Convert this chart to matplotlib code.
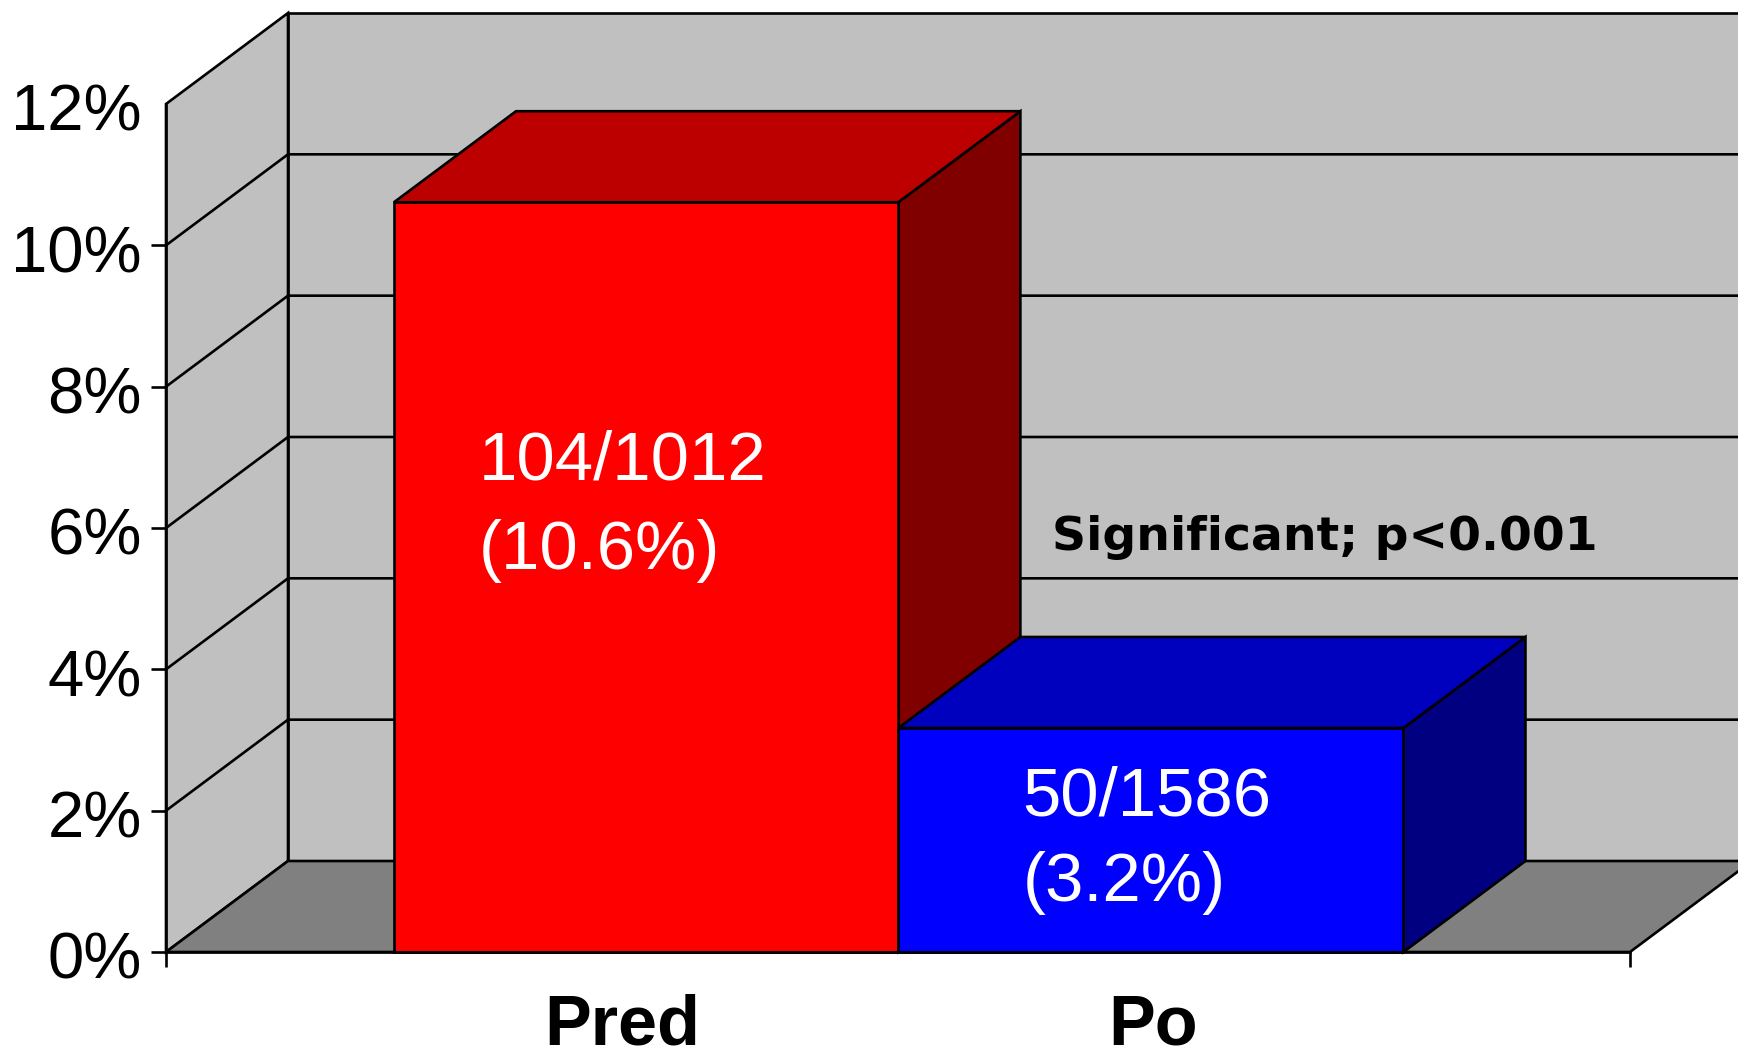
import matplotlib
matplotlib.use("Agg")
import matplotlib.pyplot as plt
from matplotlib.patches import Polygon
from matplotlib.transforms import ScaledTranslation

categories = ["Pred", "Po"]
rates = [10.61, 3.17]
bar_notes = [["104/1012", "(10.6%)"], ["50/1586", "(3.2%)"]]
y_ticks = [0, 2, 4, 6, 8, 10, 12]
y_tick_labels = ["0%", "2%", "4%", "6%", "8%", "10%", "12%"]
annotation = "Significant; p<0.001"

W, H = 1738, 1048
LEFT, RIGHT, BOTTOM, TOP = 166, 1630, 952, 104
XMAX, YMAX = 2.0, 12.0
DX = 122 / ((RIGHT - LEFT) / XMAX)
DY = 91 / ((BOTTOM - TOP) / YMAX)
bar_centers = [0.656, 1.3455]
bar_widths = [0.689, 0.690]
LW = 1.9
LC = "black"
face = ["#FF0000", "#0000FF"]
side = ["#800000", "#000080"]
top = ["#BC0000", "#0000BF"]
label_x = [0.427, 1.170]
label_y = [[6.94, 5.67], [2.19, 0.97]]

plt.rcParams["font.family"] = ["Liberation Sans", "DejaVu Sans"]
fig = plt.figure(figsize=(W / 100, H / 100), dpi=100, facecolor="white")
ax = fig.add_axes([LEFT / W, 1 - BOTTOM / H, (RIGHT - LEFT) / W, (BOTTOM - TOP) / H])
ax.set_xlim(0, XMAX)
ax.set_ylim(0, YMAX)
ax.patch.set_visible(False)


def poly(points, color, z, edge=LC):
    ax.add_patch(Polygon(points, closed=True, facecolor=color, edgecolor=edge,
                         linewidth=LW, zorder=z, clip_on=False, joinstyle="miter"))


# walls and floor
poly([(DX, DY), (XMAX + DX, DY), (XMAX + DX, YMAX + DY), (DX, YMAX + DY)], "#C0C0C0", 1)
poly([(0, 0), (DX, DY), (DX, YMAX + DY), (0, YMAX)], "#C0C0C0", 1)
poly([(0, 0), (XMAX, 0), (XMAX + DX, DY), (DX, DY)], "#808080", 1)

# gridlines on the back and side walls
for v in y_ticks[1:-1]:
    ax.plot([0, DX, XMAX + DX], [v, v + DY, v + DY], color=LC, lw=LW, zorder=2,
            clip_on=False, solid_joinstyle="miter")

# bars
for i, (c, v) in enumerate(zip(bar_centers, rates)):
    x0, x1 = c - bar_widths[i] / 2, c + bar_widths[i] / 2
    z = 3 + i
    poly([(x1, 0), (x1 + DX, DY), (x1 + DX, v + DY), (x1, v)], side[i], z)
    poly([(x0, v), (x1, v), (x1 + DX, v + DY), (x0 + DX, v + DY)], top[i], z)
    ax.bar(c, v, width=bar_widths[i], color=face[i], edgecolor=LC, linewidth=LW, zorder=z,
           clip_on=False)
    for line, ly in zip(bar_notes[i], label_y[i]):
        ax.text(label_x[i], ly, line, color="white", fontsize=49.6, ha="left", va="center", zorder=6)

ax.text(1.211, 5.86, annotation, family="DejaVu Sans", fontweight="bold", fontsize=34,
        color="black", ha="left", va="center", zorder=6)

# axes
for s in ("top", "right"):
    ax.spines[s].set_visible(False)
for s in ("left", "bottom"):
    ax.spines[s].set_linewidth(LW)
    ax.spines[s].set_zorder(7)
ax.set_yticks(y_ticks)
ax.set_yticklabels(y_tick_labels, fontsize=47)
ax.tick_params(axis="y", length=11, width=LW, pad=6.5)
ax.yaxis.get_major_ticks()[-1].tick1line.set_visible(False)
shift = ScaledTranslation(0, -3.3 / 100, fig.dpi_scale_trans)
for lab in ax.get_yticklabels():
    lab.set_transform(lab.get_transform() + shift)
ax.set_xticks([0.623, 1.348])
ax.set_xticklabels(categories, fontsize=50.5, fontweight="bold")
ax.tick_params(axis="x", which="major", length=0, pad=30)
ax.set_xticks([0, XMAX], minor=True)
ax.tick_params(axis="x", which="minor", length=11, width=LW)

fig.savefig("out.png", dpi=100, facecolor="white")
